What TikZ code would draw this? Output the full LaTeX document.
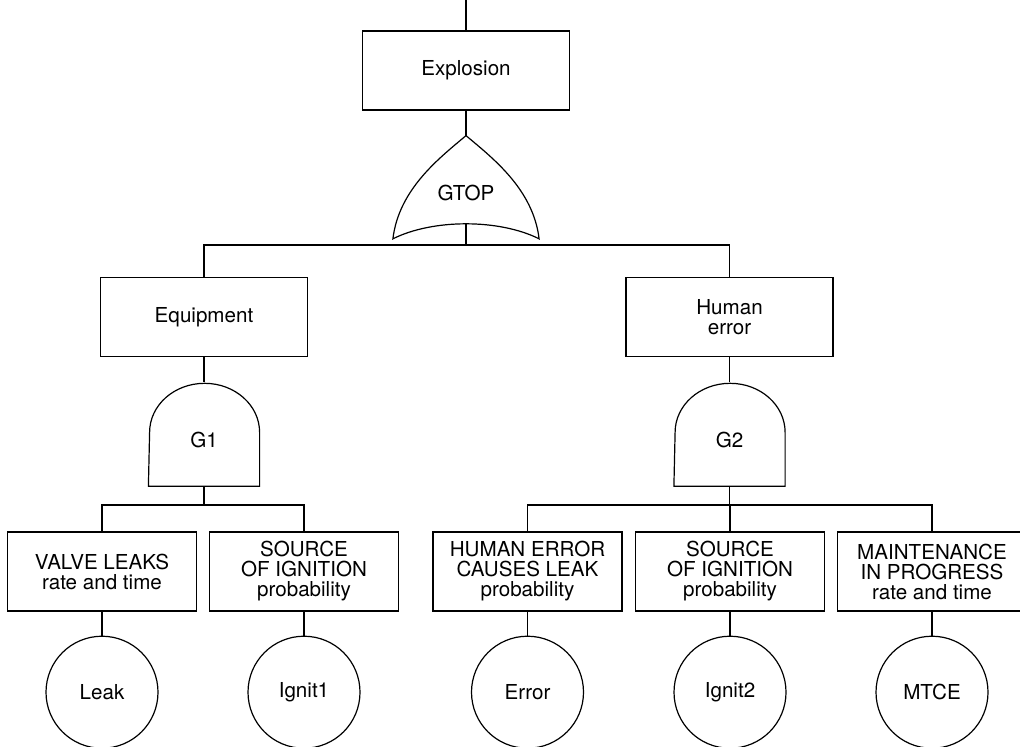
\documentclass[tikz,border=0pt]{standalone}
\usepackage{fontspec}
\setmainfont{TeX Gyre Heros}
\usetikzlibrary{positioning}

\begin{document}
\begin{tikzpicture}[
    x=1pt, y=1pt,
    line width=0.6pt,
    every node/.style={font=\fontsize{10.3}{10}\selectfont},
    event/.style={rectangle, draw, minimum width=103.5pt, minimum height=39.5pt, align=center, inner sep=0pt},
    basic/.style={event, minimum width=94.5pt},
    gate/.style={rectangle, minimum width=55pt, minimum height=51.5pt, inner sep=0pt, text height=13pt, text depth=0pt},
    orgate/.style={gate, minimum width=72.5pt, minimum height=51pt},
    leaf/.style={circle, draw, minimum size=56pt, inner sep=0pt},
]
\useasboundingbox (0,0) rectangle (510,-373);

% top event and OR gate
\node[event] (top) at (233,-35.25) {Explosion};
\node[orgate, below=12.5pt of top] (g0) {GTOP};
\coordinate (in0) at (top.north |- 0,0);
\coordinate (g0in) at ([yshift=7.5pt]g0.south);
\draw (g0.south west) .. controls +(3pt,25pt) and +(-13pt,-11pt) .. (g0.north)
    .. controls +(13pt,-11pt) and +(-3pt,25pt) .. (g0.south east)
    .. controls +(-20pt,10pt) and +(20pt,10pt) .. (g0.south west) -- cycle;

% intermediate events and AND gates
\node[event] (eq) at (102,-158.5) {Equipment};
\node[event] (he) at (364.75,-158.5) {Human\\error};
\node[gate, below=12.5pt of eq] (g1) {G1};
\node[gate, below=12.5pt of he] (g2) {G2};
\draw (g1.south west) -- (g1.south east) -- ++(0,27pt)
    arc[start angle=0, end angle=180, x radius=27.5pt, y radius=24.5pt] -- cycle;
\draw (g2.south west) -- (g2.south east) -- ++(0,27pt)
    arc[start angle=0, end angle=180, x radius=27.5pt, y radius=24.5pt] -- cycle;

% basic events
\node[basic] (valve) at (51,-285.75) {VALVE LEAKS\\rate and time};
\node[basic] (ign1) at (152,-285.75) {SOURCE\\OF IGNITION\\probability};
\node[basic] (herr) at (263.75,-285.75) {HUMAN ERROR\\CAUSES LEAK\\probability};
\node[basic] (ign2) at (365,-285.75) {SOURCE\\OF IGNITION\\probability};
\node[basic] (mtce) at (466,-285.75) {MAINTENANCE\\IN PROGRESS\\rate and time};

\node[leaf, below=12pt of valve] (leak) {Leak};
\node[leaf, below=12pt of ign1] (ignit1) {Ignit1};
\node[leaf, below=12pt of herr] (error) {Error};
\node[leaf, below=12pt of ign2] (ignit2) {Ignit2};
\node[leaf, below=12pt of mtce] (maint) {MTCE};

% connectors
\coordinate (b0) at (g0in |- 0,-122.5);
\coordinate (b1) at (g1.south |- 0,-252.5);
\coordinate (b2) at (g2.south |- 0,-252.5);

\draw (in0) -- (top.north);
\draw (top.south) -- (g0.north);
\draw (g0in) -- (b0);
\draw (eq.north) |- (b0) -| (he.north);
\draw (eq.south) -- (g1.north);
\draw (he.south) -- (g2.north);

\draw (g1.south) -- (b1);
\draw (valve.north) |- (b1) -| (ign1.north);
\draw (g2.south) -- (b2);
\draw (herr.north) |- (b2) -| (mtce.north);
\draw (ign2.north) -- (ign2.north |- b2);

\draw (valve.south) -- (leak.north);
\draw (ign1.south) -- (ignit1.north);
\draw (herr.south) -- (error.north);
\draw (ign2.south) -- (ignit2.north);
\draw (mtce.south) -- (maint.north);

\end{tikzpicture}
\end{document}
